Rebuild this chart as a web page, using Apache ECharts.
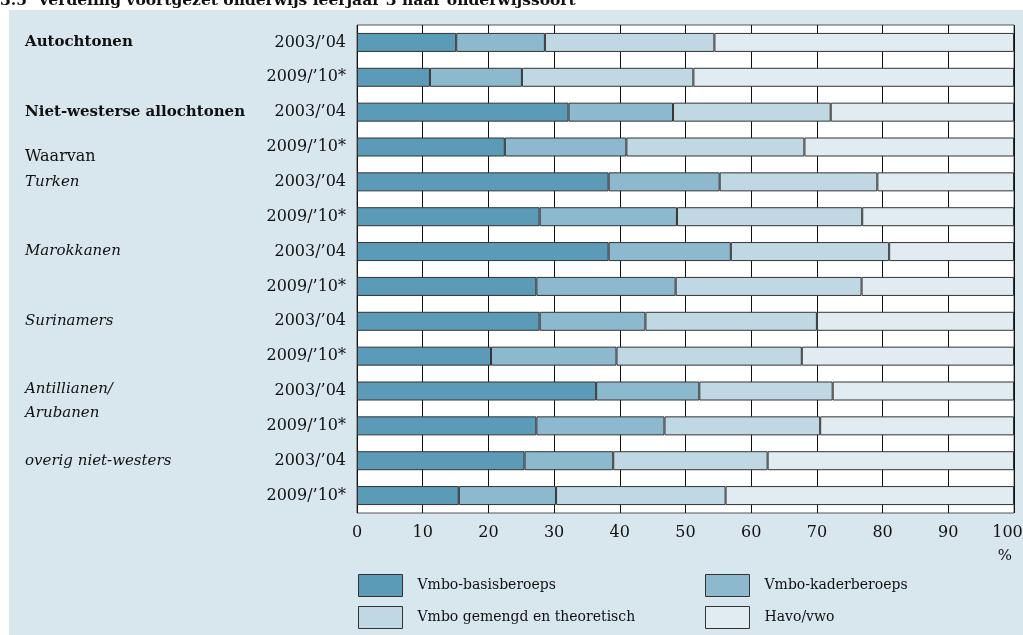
<!DOCTYPE html>
<html lang="nl">
<head>
    <meta charset="utf-8">
    <title>Verdeling voortgezet onderwijs leerjaar 3</title>
    <script src="https://cdn.jsdelivr.net/npm/echarts@6.0.0/dist/echarts.min.js"></script>
    <style>
        body { margin: 0; background: #fff; }
    </style>
</head>
<body>
    <div id="main" style="width:1023px; height:635px;"></div>

<script type="text/javascript">
// rijen van boven naar beneden
var years = ['2003/’04', '2009/’10*', '2003/’04', '2009/’10*', '2003/’04', '2009/’10*', '2003/’04',
             '2009/’10*', '2003/’04', '2009/’10*', '2003/’04', '2009/’10*', '2003/’04', '2009/’10*'];
var groups = ['Autochtonen', '', 'Niet-westerse allochtonen', 'Waarvan', 'Turken', '', 'Marokkanen', '',
              'Surinamers', '', 'Antillianen/', 'Arubanen', 'overig niet-westers', ''];
var seriesNames = ['Vmbo-basisberoeps', 'Vmbo-kaderberoeps', 'Vmbo gemengd en theoretisch', 'Havo/vwo'];

// percentages
var basis   = [15.1, 11.1, 32.2, 22.5, 38.3, 27.8, 38.3, 27.3, 27.8, 20.4, 36.4, 27.3, 25.5, 15.5];
var kader   = [13.5, 14.0, 15.9, 18.5, 16.9, 20.9, 18.6, 21.2, 16.1, 19.1, 15.7, 19.5, 13.5, 14.8];
var gemengd = [25.8, 26.1, 24.0, 27.1, 24.0, 28.2, 24.1, 28.3, 26.1, 28.2, 20.3, 23.7, 23.5, 25.8];
var havo    = [45.6, 48.8, 27.9, 31.9, 20.8, 23.1, 19.0, 23.2, 30.0, 32.3, 27.6, 29.5, 37.5, 43.9];

var colors = ['#5b9bb8', '#8db9cf', '#c0d8e4', '#e1ecf2'];
var serif = '"DejaVu Serif", "Liberation Serif", serif';

var myChart = echarts.init(document.getElementById('main'));

function bar(name, data, color) {
    return {
        name: name,
        type: 'bar',
        stack: 'tot',
        barWidth: 19,
        data: data,
        itemStyle: { color: color, borderColor: '#333', borderWidth: 1 },
        emphasis: { disabled: true }
    };
}

// labels links met bold / italic
function groupLabel(value, idx) {
    if (!value) return '';
    if (idx === 0 || idx === 2) return '{b|' + value + '}';
    if (idx === 3) return '{w|' + value + '}';
    if (idx === 10) return '{a1|' + value + '}';
    if (idx === 11) return '{a2|' + value + '}';
    return '{i|' + value + '}';
}

function legendBlock(names, left) {
    return {
        data: names,
        orient: 'vertical', left: left, top: 574, padding: 0,
        icon: 'rect', itemWidth: 44, itemHeight: 22, itemGap: 9,
        itemStyle: { borderColor: '#333', borderWidth: 1 },
        textStyle: { fontFamily: serif, fontSize: 14, color: '#111', padding: [5, 0, 0, 10] },
        selectedMode: false
    };
}

var option = {
    animation: false,
    textStyle: { fontFamily: serif },
    graphic: [
        {
            type: 'rect', z: -10, silent: true,
            shape: { x: 9, y: 10, width: 1014, height: 625 },
            style: { fill: '#d8e6ee' }
        },
        {
            type: 'text', x: 0, y: 9, silent: true,
            style: {
                text: '3.5  Verdeling voortgezet onderwijs leerjaar 3 naar onderwijssoort',
                font: 'bold 15.5px ' + serif, fill: '#111', verticalAlign: 'bottom'
            }
        }
    ],
    grid: {
        left: 357, right: 9, top: 25, bottom: 122,
        outerBoundsMode: 'none', containLabel: false,
        show: true, backgroundColor: '#fff', borderColor: '#555', borderWidth: 1
    },
    legend: [
        legendBlock([seriesNames[0], seriesNames[2]], 358),
        legendBlock([seriesNames[1], seriesNames[3]], 705)
    ],
    xAxis: {
        type: 'value', min: 0, max: 100, interval: 10,
        name: '%', nameLocation: 'end', nameGap: -9,
        nameTextStyle: { fontFamily: serif, fontSize: 15, color: '#111', align: 'center', verticalAlign: 'top', padding: [36, 0, 0, 0] },
        axisLine: { show: false },
        axisTick: { show: false },
        axisLabel: {
            margin: 12, fontFamily: serif, fontSize: 16, color: '#111',
            formatter: function (v) { return v === 100 ? '{m|100}' : String(v); },
            rich: { m: { fontFamily: serif, fontSize: 16, color: '#111', padding: [0, 13, 0, 0] } }
        },
        splitLine: { show: true, lineStyle: { color: '#111', width: 1 } }
    },
    yAxis: [
        {
            type: 'category', data: years, inverse: true,
            axisLine: { show: false }, axisTick: { show: false },
            axisLabel: { margin: 11, fontFamily: serif, fontSize: 16, color: '#111' }
        },
        {
            type: 'category', data: groups, inverse: true, position: 'left',
            axisLine: { show: false }, axisTick: { show: false },
            axisLabel: {
                margin: 332, align: 'left',
                formatter: groupLabel,
                rich: {
                    b: { fontFamily: serif, fontSize: 15, fontWeight: 'bold', color: '#111' },
                    w: { fontFamily: serif, fontSize: 16, color: '#111', padding: [20, 0, 0, 0] },
                    i: { fontFamily: serif, fontSize: 15, fontStyle: 'italic', color: '#111' },
                    a1: { fontFamily: serif, fontSize: 15, fontStyle: 'italic', color: '#111', padding: [0, 0, 4, 0] },
                    a2: { fontFamily: serif, fontSize: 15, fontStyle: 'italic', color: '#111', padding: [0, 0, 26, 0] }
                }
            }
        }
    ],
    series: [
        bar(seriesNames[0], basis, colors[0]),
        bar(seriesNames[1], kader, colors[1]),
        bar(seriesNames[2], gemengd, colors[2]),
        bar(seriesNames[3], havo, colors[3])
    ]
};

myChart.setOption(option);
</script>
</body>
</html>
